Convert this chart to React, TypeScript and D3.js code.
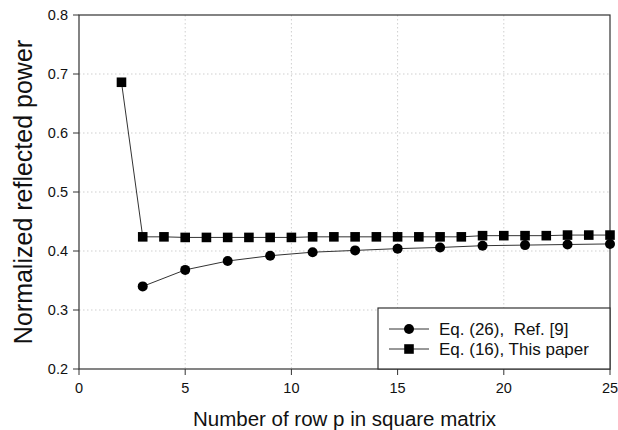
import React from 'react';
import * as d3 from 'd3';

// Data
const pSquare = [2, 3, 4, 5, 6, 7, 8, 9, 10, 11, 12, 13, 14, 15, 16, 17, 18, 19, 20, 21, 22, 23, 24, 25];
const squareVals = [0.686, 0.424, 0.424, 0.423, 0.423, 0.423, 0.423, 0.423, 0.423, 0.424, 0.424, 0.424, 0.424, 0.424, 0.424, 0.424, 0.424, 0.426, 0.426, 0.426, 0.426, 0.427, 0.427, 0.427];
const pCircle = [3, 5, 7, 9, 11, 13, 15, 17, 19, 21, 23, 25];
const circleVals = [0.340, 0.368, 0.383, 0.392, 0.398, 0.401, 0.404, 0.406, 0.409, 0.410, 0.411, 0.412];
const xTicks = [0, 5, 10, 15, 20, 25];
const yTicks = [0.2, 0.3, 0.4, 0.5, 0.6, 0.7, 0.8];
const legendLabels = ['Eq. (26),  Ref. [9]', 'Eq. (16), This paper'];

const W = 618;
const H = 430;
const margin = { top: 15, right: 8, bottom: 61, left: 79 };
const FONT = 'Arial, "Liberation Sans", sans-serif';

const App = () => {
  const x = d3.scaleLinear().domain([0, 25]).range([margin.left, W - margin.right]);
  const y = d3.scaleLinear().domain([0.2, 0.8]).range([H - margin.bottom, margin.top]);

  const squares = pSquare.map((p, i) => [p, squareVals[i]] as [number, number]);
  const circles = pCircle.map((p, i) => [p, circleVals[i]] as [number, number]);

  const line = d3.line<[number, number]>().x(d => x(d[0])).y(d => y(d[1]));
  const sq = d3.symbol().type(d3.symbolSquare).size(92)();

  const x0 = x(0), x1 = x(25), y0 = y(0.2), y1 = y(0.8);

  // legend box
  const lg = { x: 378, y: 308, w: x1 - 378, h: y0 - 308 };
  const rows = [lg.y + 21, lg.y + 41];

  return (
    <svg width={W} height={H} style={{ position: 'absolute', left: 0, top: 0, background: '#fff' }} fontFamily={FONT}>
      {/* grid */}
      {xTicks.filter(t => t > 0 && t < 25).map(t => (
        <line key={'gx' + t} x1={x(t)} x2={x(t)} y1={y1} y2={y0} stroke="#cfcfcf" strokeDasharray="1.5,2.5" />
      ))}
      {yTicks.filter(t => t > 0.25 && t < 0.75).map(t => (
        <line key={'gy' + t} x1={x0} x2={x1} y1={y(t)} y2={y(t)} stroke="#cfcfcf" strokeDasharray="1.5,2.5" />
      ))}

      {/* frame */}
      <rect x={x0} y={y1} width={x1 - x0} height={y0 - y1} fill="none" stroke="#333" strokeWidth={1.2} />

      {/* ticks */}
      {xTicks.map(t => (
        <g key={'xt' + t}>
          <line x1={x(t)} x2={x(t)} y1={y0} y2={y0 + 6} stroke="#333" />
          <text x={x(t)} y={y0 + 24} textAnchor="middle" fontSize={14.5} fill="#111">{t}</text>
        </g>
      ))}
      {yTicks.map(t => (
        <g key={'yt' + t}>
          <line x1={x0 - 6} x2={x0} y1={y(t)} y2={y(t)} stroke="#333" />
          <text x={x0 - 11} y={y(t) + 5} textAnchor="end" fontSize={14.5} fill="#111">{t.toFixed(1)}</text>
        </g>
      ))}

      {/* series */}
      <path d={line(circles) || ''} fill="none" stroke="#333" strokeWidth={1} />
      <path d={line(squares) || ''} fill="none" stroke="#333" strokeWidth={1} />
      {circles.map((d, i) => (
        <circle key={'c' + i} cx={x(d[0])} cy={y(d[1])} r={5} fill="#000" />
      ))}
      {squares.map((d, i) => (
        <path key={'s' + i} d={sq || ''} transform={`translate(${x(d[0])},${y(d[1])})`} fill="#000" />
      ))}

      {/* legend */}
      <rect x={lg.x} y={lg.y} width={lg.w} height={lg.h} fill="#fff" stroke="#333" strokeWidth={1.2} />
      {legendLabels.map((lab, i) => (
        <g key={'lg' + i}>
          <line x1={389} x2={429} y1={rows[i]} y2={rows[i]} stroke="#333" />
          {i === 0
            ? <circle cx={409} cy={rows[i]} r={5} fill="#000" />
            : <path d={sq || ''} transform={`translate(409,${rows[i]})`} fill="#000" />}
          <text x={439} y={rows[i] + 6} fontSize={17} fill="#111" style={{ whiteSpace: 'pre' }}>{lab}</text>
        </g>
      ))}

      {/* axis titles */}
      <text x={(x0 + x1) / 2} y={426} textAnchor="middle" fontSize={20.5} fill="#111">
        Number of row p in square matrix
      </text>
      <text transform={`translate(32,${(y0 + y1) / 2}) rotate(-90)`} textAnchor="middle" fontSize={25} fill="#111">
        Normalized reflected power
      </text>
    </svg>
  );
};

export default App;
